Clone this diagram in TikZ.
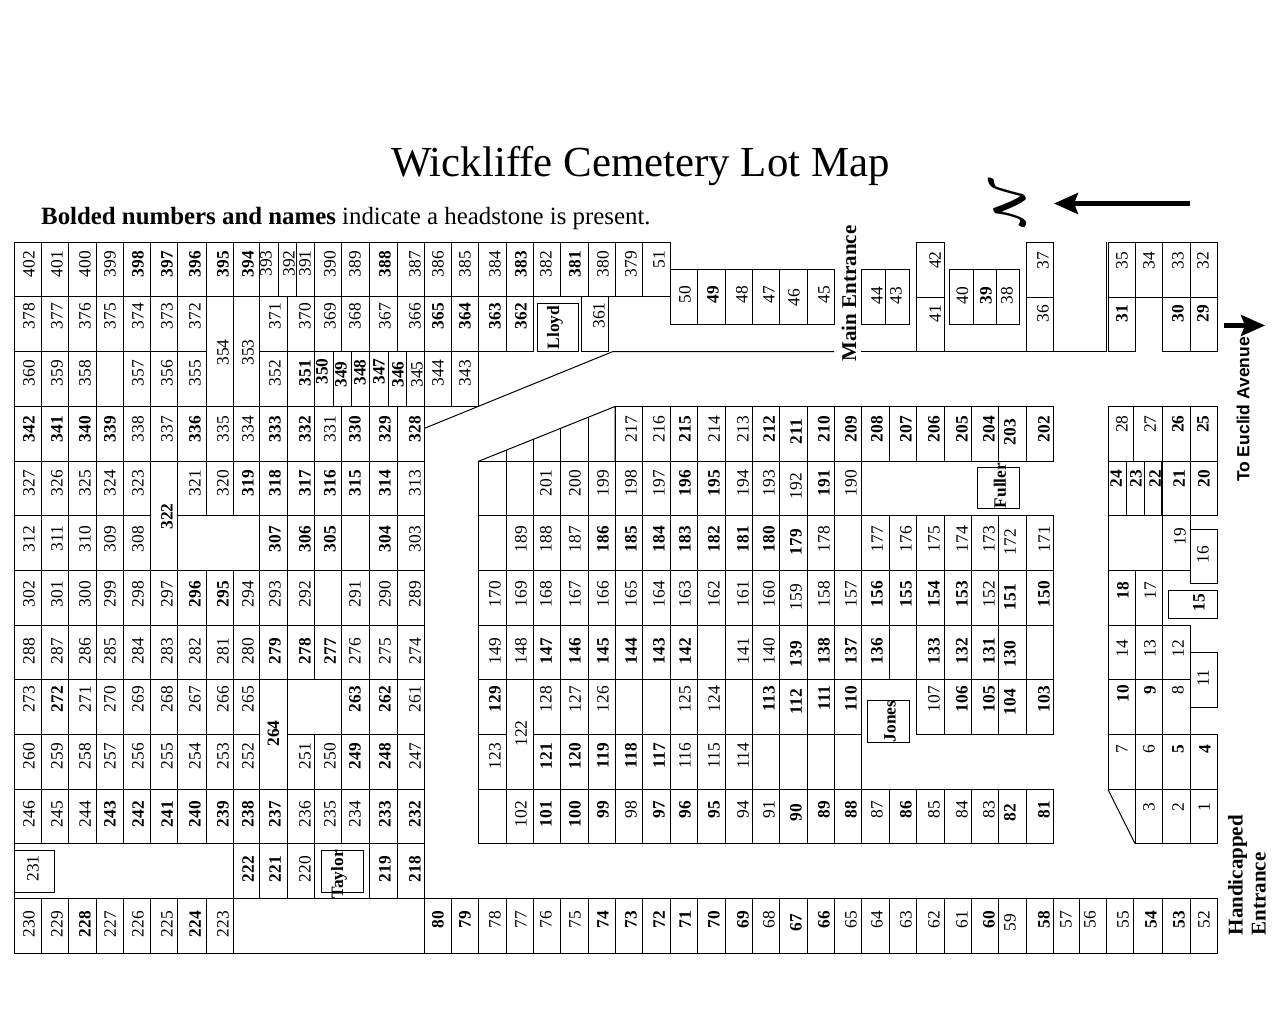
\documentclass[tikz,border=0pt]{standalone}
\usepackage{fontspec}
\setmainfont{Liberation Serif}
\newfontfamily\roadfont{Liberation Sans}
\font\northfont=cmbsy10 at 44pt
\usepackage{tikz}
\usetikzlibrary{arrows.meta}

\def\colx{{14,41,68.5,96,123,150,177,206,233,259,287,314,341,369,397,424,451,478,506,533,560,588,615,642,670,697,725,752,779,807,834,861,889,916,944,971,998,1026,1053,1079,1106,1133,1162,1190,1217}}
\def\rowy{{242,296,351,406,461,515,570,625,679,734,789,843,898,953}}
\def\numx{{29,57,85,110,138,167,195,223,248,275,305,330,355,385,415,438,465,495,521,546,575,603,631,659,685,714,743,769,796,824,851,877,906,934,962,989,1010,1044,1066,1090,1123,1151,1179,1204}}
\def\numy{{263,315,372,428,482,538,593,650,698,755,813,868,923}}

\tikzset{
	lotline/.style={line width=1pt},
	lotnum/.style={rotate=90,inner sep=0pt,font=\fontsize{17.4}{17}\selectfont},
	lotbold/.style={rotate=90,inner sep=0pt,font=\fontsize{17.4}{17}\selectfont\bfseries},
	entrance/.style={rotate=90,inner sep=0pt,align=left,font=\fontsize{21}{23}\selectfont\bfseries},
	bigarrow/.style={line width=4.5pt,-{Stealth[length=24pt,width=21pt,inset=4pt]}}
}

\newcommand{\blanklot}[2]{
	\pgfmathsetmacro{\xa}{\colx[#1]}
	\pgfmathsetmacro{\xb}{\colx[#1+1]}
	\pgfmathsetmacro{\ya}{\rowy[#2]}
	\pgfmathsetmacro{\yb}{\rowy[#2+1]}
	\draw[lotline] (\xa,\ya) rectangle (\xb,\yb);
}
\newcommand{\gridlot}[4]{
	\blanklot{#2}{#3}
	\pgfmathsetmacro{\tx}{\numx[#2]}
	\pgfmathsetmacro{\ty}{\numy[#3]-12.5+3*(#2==28||#2==36)}
	\node[#1,anchor=east] (lot#4) at (\tx,\ty) {#4};
}
\newcommand{\rowlots}[3]{\foreach \k/\n in {#3} {\gridlot{#1}{\k}{#2}{\n}}}
\newcommand{\boxlot}[8]{
	\draw[lotline] (#2,#3) rectangle (#4,#5);
	\node[#1] (lot#8) at (#6,#7) {#8};
}

\begin{document}
\begin{tikzpicture}[x=1pt,y=-1pt]
	\useasboundingbox (0,0) rectangle (1279,1024);
	\begin{scope}[yshift=-0.5pt]

	\node[anchor=base west,inner sep=0pt,font=\fontsize{42.85}{43}\selectfont] (title) at (391,176.5) {Wickliffe Cemetery Lot Map};
	\node[anchor=base west,inner sep=0pt,font=\fontsize{24.85}{25}\selectfont] (legend) at (41,224.5) {\textbf{Bolded numbers and names} indicate a headstone is present.};

	\node[rotate=90,inner sep=0pt,font=\northfont] (north) at (1009,205) {N};
	\coordinate (northtail) at (1190,203);
	\coordinate (northtip) at (1054,203);
	\draw[bigarrow] (northtail) -- (northtip);
	\coordinate (roadtail) at (1224,325);
	\coordinate (roadtip) at (1265,325);
	\draw[bigarrow] (roadtail) -- (roadtip);

	\node[entrance] (mainentrance) at (849,293) {Main Entrance};
	\node[entrance,anchor=west] (handicapped) at (1247,935) {Handicapped\\Entrance};
	\node[rotate=90,inner sep=0pt,font=\fontsize{17.5}{18}\selectfont\roadfont\bfseries] (euclid) at (1243,409) {To Euclid Avenue};

	% west block
	\rowlots{lotnum}{0}{0/402,1/401,2/400,3/399,11/390,12/389,14/387,15/386,16/385,17/384,19/382,21/380,22/379,23/51}
	\rowlots{lotbold}{0}{4/398,5/397,6/396,7/395,8/394,13/388,18/383,20/381}
	\rowlots{lotnum}{1}{0/378,1/377,2/376,3/375,4/374,5/373,6/372,9/371,10/370,11/369,12/368,13/367,14/366}
	\rowlots{lotbold}{1}{15/365,16/364,17/363,18/362}
	\rowlots{lotnum}{2}{0/360,1/359,2/358,4/357,5/356,6/355,9/352,15/344,16/343}
	\rowlots{lotbold}{2}{10/351}
	\rowlots{lotnum}{3}{4/338,5/337,7/335,8/334,11/331}
	\rowlots{lotbold}{3}{0/342,1/341,2/340,3/339,6/336,9/333,10/332,12/330,13/329,14/328}
	\rowlots{lotnum}{4}{0/327,1/326,2/325,3/324,4/323,6/321,7/320,14/313}
	\rowlots{lotbold}{4}{8/319,9/318,10/317,11/316,12/315,13/314}
	\rowlots{lotnum}{5}{0/312,1/311,2/310,3/309,4/308,14/303}
	\rowlots{lotbold}{5}{9/307,10/306,11/305,13/304}
	\rowlots{lotnum}{6}{0/302,1/301,2/300,3/299,4/298,5/297,8/294,9/293,10/292,12/291,13/290,14/289}
	\rowlots{lotbold}{6}{6/296,7/295}
	\rowlots{lotnum}{7}{0/288,1/287,2/286,3/285,4/284,5/283,6/282,7/281,8/280,12/276,13/275,14/274}
	\rowlots{lotbold}{7}{9/279,10/278,11/277}
	\rowlots{lotnum}{8}{0/273,2/271,3/270,4/269,5/268,6/267,7/266,8/265,14/261}
	\rowlots{lotbold}{8}{1/272,12/263,13/262}
	\rowlots{lotnum}{9}{0/260,1/259,2/258,3/257,4/256,5/255,6/254,7/253,8/252,10/251,11/250,14/247}
	\rowlots{lotbold}{9}{12/249,13/248}
	\rowlots{lotnum}{10}{0/246,1/245,2/244,10/236,11/235,12/234}
	\rowlots{lotbold}{10}{3/243,4/242,5/241,6/240,7/239,8/238,9/237,13/233,14/232}
	\rowlots{lotnum}{11}{10/220}
	\rowlots{lotbold}{11}{8/222,9/221,13/219,14/218}
	\rowlots{lotnum}{12}{0/230,1/229,3/227,4/226,5/225,7/223}
	\rowlots{lotbold}{12}{2/228,6/224}

	% south row
	\rowlots{lotnum}{12}{17/78,18/77,19/76,20/75,27/68,30/65,31/64,32/63,33/62,34/61,36/59,38/57,39/56,40/55,43/52}
	\rowlots{lotbold}{12}{15/80,16/79,21/74,22/73,23/72,24/71,25/70,26/69,28/67,29/66,35/60,37/58,41/54,42/53}

	% middle block
	\rowlots{lotnum}{3}{22/217,23/216,25/214,26/213}
	\rowlots{lotbold}{3}{24/215,27/212,28/211,29/210,30/209,31/208,32/207,33/206,34/205,35/204,36/203,37/202}
	\rowlots{lotnum}{4}{19/201,20/200,21/199,22/198,23/197,26/194,27/193,28/192,30/190}
	\rowlots{lotbold}{4}{24/196,25/195,29/191}
	\rowlots{lotnum}{5}{18/189,19/188,20/187,29/178,31/177,32/176,33/175,34/174,35/173,36/172,37/171}
	\rowlots{lotbold}{5}{21/186,22/185,23/184,24/183,25/182,26/181,27/180,28/179}
	\rowlots{lotnum}{6}{17/170,18/169,19/168,20/167,21/166,22/165,23/164,24/163,25/162,26/161,27/160,28/159,29/158,30/157,35/152}
	\rowlots{lotbold}{6}{31/156,32/155,33/154,34/153,36/151,37/150}
	\rowlots{lotnum}{7}{17/149,18/148,26/141,27/140}
	\rowlots{lotbold}{7}{19/147,20/146,21/145,22/144,23/143,24/142,28/139,29/138,30/137,31/136,33/133,34/132,35/131,36/130}
	\rowlots{lotnum}{8}{19/128,20/127,21/126,24/125,25/124,33/107}
	\rowlots{lotbold}{8}{17/129,27/113,28/112,29/111,30/110,34/106,35/105,36/104,37/103}
	\rowlots{lotnum}{9}{17/123,24/116,25/115,26/114}
	\rowlots{lotbold}{9}{19/121,20/120,21/119,22/118,23/117}
	\rowlots{lotnum}{10}{18/102,22/98,26/94,27/91,31/87,33/85,34/84,35/83}
	\rowlots{lotbold}{10}{19/101,20/100,21/99,23/97,24/96,25/95,28/90,29/89,30/88,32/86,36/82,37/81}

	\foreach \k/\r in {3/2,11/6,12/5,17/4,18/4,17/5,30/5,25/7,32/7,37/7,22/8,23/8,26/8,27/9,28/9,29/9,30/9,17/10} {\blanklot{\k}{\r}}

	% merged plots
	\draw[lotline] (177,515) rectangle (259,570);
	\draw[lotline] (287,679) rectangle (341,734);
	\draw[lotline] (14,843) rectangle (233,898);
	\draw[lotline] (314,843) rectangle (369,898);
	\draw[lotline] (233,898) rectangle (424,953);
	\boxlot{lotnum}{206}{296}{233}{406}{223}{352}{354}
	\boxlot{lotnum}{233}{296}{259}{406}{248}{352}{353}
	\boxlot{lotbold}{150}{461}{177}{570}{167}{516}{322}
	\boxlot{lotbold}{259}{679}{287}{789}{273.5}{733}{264}
	\boxlot{lotnum}{506}{679}{533}{789}{521}{733}{122}

	% narrow plots
	\boxlot{lotnum}{259}{242}{278}{296}{266}{263}{393}
	\boxlot{lotnum}{278}{242}{296}{296}{289}{263}{392}
	\boxlot{lotnum}{296}{242}{314}{296}{305}{263}{391}
	\boxlot{lotbold}{314}{351}{333}{406}{322}{371}{350}
	\boxlot{lotbold}{333}{351}{351}{406}{341}{374}{349}
	\boxlot{lotbold}{351}{351}{369}{406}{360}{372}{348}
	\boxlot{lotbold}{369}{351}{388}{406}{379}{371}{347}
	\boxlot{lotbold}{388}{351}{406}{406}{398}{374}{346}
	\boxlot{lotnum}{406}{351}{424}{406}{417}{374}{345}

	% family plots
	\boxlot{lotnum}{14}{850}{54}{892}{33}{868}{231}
	\boxlot{lotnum}{581}{296}{608}{351}{599}{315}{361}
	\boxlot{lotbold}{537}{303}{578}{351}{555}{327}{Lloyd}
	\boxlot{lotbold}{321}{850}{363}{892}{339}{874}{Taylor}
	\boxlot{lotbold}{977}{467}{1019}{508}{1000}{485}{Fuller}
	\boxlot{lotbold}{867}{700}{909}{742}{890}{721}{Jones}

	% drive edges
	\draw[lotline] (424,428) -- (613,351) -- (834,351);
	\draw[lotline] (861,351) -- (1106,351);
	\draw[lotline] (1106,242) -- (1106,351);
	\draw[lotline] (478,461) -- (615,406) -- (615,461);
	\draw[lotline] (506,449.6) -- (506,461);
	\draw[lotline] (533,438.6) -- (533,461);
	\draw[lotline] (560,427.6) -- (560,461);
	\draw[lotline] (588,416.2) -- (588,461);
	\draw[lotline] (478,461) -- (615,461);

	% entrance plots
	\boxlot{lotnum}{670}{269}{697}{324}{685}{294}{50}
	\boxlot{lotbold}{697}{269}{725}{324}{713}{294}{49}
	\boxlot{lotnum}{725}{269}{752}{324}{742}{294}{48}
	\boxlot{lotnum}{752}{269}{779}{324}{769}{294}{47}
	\boxlot{lotnum}{779}{269}{807}{324}{794}{297}{46}
	\boxlot{lotnum}{807}{269}{834}{324}{824}{294}{45}
	\boxlot{lotnum}{861}{269}{885}{324}{877}{295}{44}
	\boxlot{lotnum}{885}{269}{909}{324}{896}{295}{43}
	\boxlot{lotnum}{916}{242}{944}{297}{935}{259.5}{42}
	\boxlot{lotnum}{916}{297}{944}{351}{935}{313}{41}
	\boxlot{lotnum}{949}{269}{973}{324}{962.5}{295}{40}
	\boxlot{lotbold}{973}{269}{996}{324}{986}{295}{39}
	\boxlot{lotnum}{996}{269}{1019}{324}{1007}{295}{38}
	\boxlot{lotnum}{1026}{242}{1053}{297}{1043}{260}{37}
	\boxlot{lotnum}{1026}{297}{1053}{351}{1043}{313}{36}

	% east block
	\boxlot{lotnum}{1108}{242}{1135}{297}{1122}{260}{35}
	\boxlot{lotnum}{1135}{242}{1162}{297}{1149}{260}{34}
	\boxlot{lotnum}{1162}{242}{1190}{297}{1178}{260}{33}
	\boxlot{lotnum}{1190}{242}{1217}{297}{1203}{260}{32}
	\boxlot{lotbold}{1108}{297}{1135}{351}{1122}{313}{31}
	\boxlot{lotbold}{1162}{297}{1190}{351}{1178}{313}{30}
	\boxlot{lotbold}{1190}{297}{1217}{351}{1203}{313}{29}
	\boxlot{lotnum}{1108}{406}{1133}{461}{1122}{423.5}{28}
	\boxlot{lotnum}{1133}{406}{1162}{461}{1150}{423.5}{27}
	\boxlot{lotbold}{1162}{406}{1190}{461}{1178}{423.5}{26}
	\boxlot{lotbold}{1190}{406}{1217}{461}{1203}{423.5}{25}
	\boxlot{lotbold}{1108}{461}{1126}{515}{1116}{478}{24}
	\boxlot{lotbold}{1126}{461}{1144}{515}{1136}{478}{23}
	\boxlot{lotbold}{1144}{461}{1162}{515}{1155}{478}{22}
	\boxlot{lotbold}{1162}{461}{1190}{515}{1179}{478}{21}
	\boxlot{lotbold}{1190}{461}{1217}{515}{1204}{478}{20}
	\draw[line width=1.6pt] (1162,461) -- (1162,515);
	\draw[lotline] (1108,515) rectangle (1162,570);
	\boxlot{lotnum}{1162}{515}{1190}{570}{1180}{536}{19}
	\boxlot{lotbold}{1108}{570}{1135}{625}{1123}{590}{18}
	\boxlot{lotnum}{1135}{570}{1162}{625}{1150}{590}{17}
	\boxlot{lotnum}{1190}{529}{1217}{583}{1203}{554}{16}
	\boxlot{lotbold}{1168}{590}{1217}{618}{1199}{602}{15}
	\boxlot{lotnum}{1108}{625}{1135}{679}{1122}{648}{14}
	\boxlot{lotnum}{1135}{625}{1162}{679}{1150}{648}{13}
	\boxlot{lotnum}{1162}{625}{1190}{679}{1178}{648}{12}
	\boxlot{lotnum}{1190}{652}{1217}{707}{1203}{678}{11}
	\boxlot{lotbold}{1108}{679}{1135}{734}{1123}{693}{10}
	\boxlot{lotbold}{1135}{679}{1162}{734}{1150}{690}{9}
	\boxlot{lotnum}{1162}{679}{1190}{734}{1178}{690}{8}
	\boxlot{lotnum}{1108}{734}{1135}{789}{1122}{749}{7}
	\boxlot{lotnum}{1135}{734}{1162}{789}{1149}{749}{6}
	\boxlot{lotbold}{1162}{734}{1190}{789}{1178}{749}{5}
	\boxlot{lotbold}{1190}{734}{1217}{789}{1205}{749}{4}
	\boxlot{lotnum}{1135}{789}{1162}{843}{1149}{807}{3}
	\boxlot{lotnum}{1162}{789}{1190}{843}{1178}{807}{2}
	\boxlot{lotnum}{1190}{789}{1217}{843}{1204}{807}{1}
	\draw[lotline] (1108,789) -- (1135,843);
	\end{scope}
\end{tikzpicture}
\end{document}
